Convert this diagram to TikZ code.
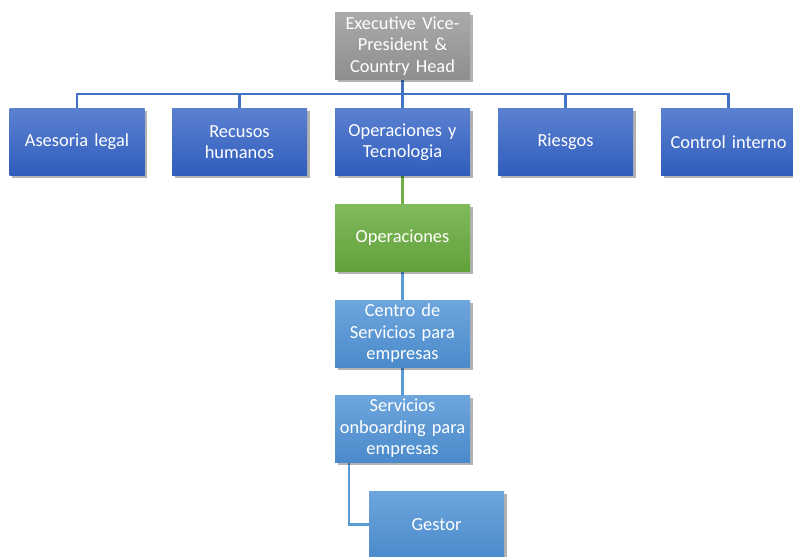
\documentclass[tikz,border=0pt]{standalone}
\usepackage{fontspec}
\setmainfont{Carlito}
\usetikzlibrary{shadows}

\definecolor{grayTop}{HTML}{AAAAAA}
\definecolor{grayBot}{HTML}{8E8E8E}
\definecolor{blueTop}{HTML}{5B80D0}
\definecolor{blueBot}{HTML}{305EBD}
\definecolor{greenTop}{HTML}{80BA5C}
\definecolor{greenBot}{HTML}{62A23A}
\definecolor{skyTop}{HTML}{6EA6DD}
\definecolor{skyBot}{HTML}{4B8ACB}
\definecolor{blueLine}{HTML}{4472C4}
\definecolor{greenLine}{HTML}{70AD47}
\definecolor{skyLine}{HTML}{5B9BD5}

\tikzset{
  orgbox/.style={minimum width=135pt, minimum height=67pt, text width=133pt,
    align=center, inner sep=0pt, text=white,
    font=\fontsize{18.4}{21.5}\selectfont,
    drop shadow={shadow xshift=2.5pt, shadow yshift=-2.5pt, opacity=0.3, fill=black}},
  headbox/.style={orgbox, top color=grayTop, bottom color=grayBot},
  deptbox/.style={orgbox, top color=blueTop, bottom color=blueBot},
  opsbox/.style={orgbox, top color=greenTop, bottom color=greenBot},
  unitbox/.style={orgbox, top color=skyTop, bottom color=skyBot},
  link/.style={line width=2.6pt},
}

\begin{document}
\begin{tikzpicture}[x=1pt, y=-1pt]
  \useasboundingbox (0,0) rectangle (793,557);
  \clip (0,0) rectangle (793,557);

  % connectors (drawn first, boxes sit on top)
  \coordinate (bus) at (402.5,94);
  \coordinate (head) at (402.5,80);
  \foreach \xx in {77,239.5,402.5,565.5,728.5}
    \draw[link, blueLine] (head) |- (bus) -| (\xx,108);
  \draw[link, greenLine] (402.5,176) -- (402.5,204);
  \draw[link, skyLine] (402.5,271) -- (402.5,300);
  \draw[link, skyLine] (402.5,367) -- (402.5,395);
  \draw[link, skyLine] (349,462) |- (369,524.5);

  % boxes
  \node[headbox] (exec) at (402.5,46) {Executive Vice-\\President \&\\Country Head};

  \node[deptbox] (legal) at (77,142)    {Asesoria legal};
  \node[deptbox] (rrhh)  at (239.5,142) {Recusos\\humanos};
  \node[deptbox] (optec) at (402.5,142) {Operaciones y\\Tecnologia};
  \node[deptbox] (risk)  at (565.5,142) {Riesgos};
  \node[deptbox] (ctrl)  at (728.5,142) {Control interno};

  \node[opsbox] (ops) at (402.5,237.5) {Operaciones};

  \node[unitbox] (centro) at (402.5,333.5) {Centro de\\Servicios para\\empresas};
  \node[unitbox] (onb)    at (402.5,428.5) {Servicios\\onboarding para\\empresas};
  \node[unitbox] (gestor) at (436.5,524.5) {Gestor};
\end{tikzpicture}
\end{document}
